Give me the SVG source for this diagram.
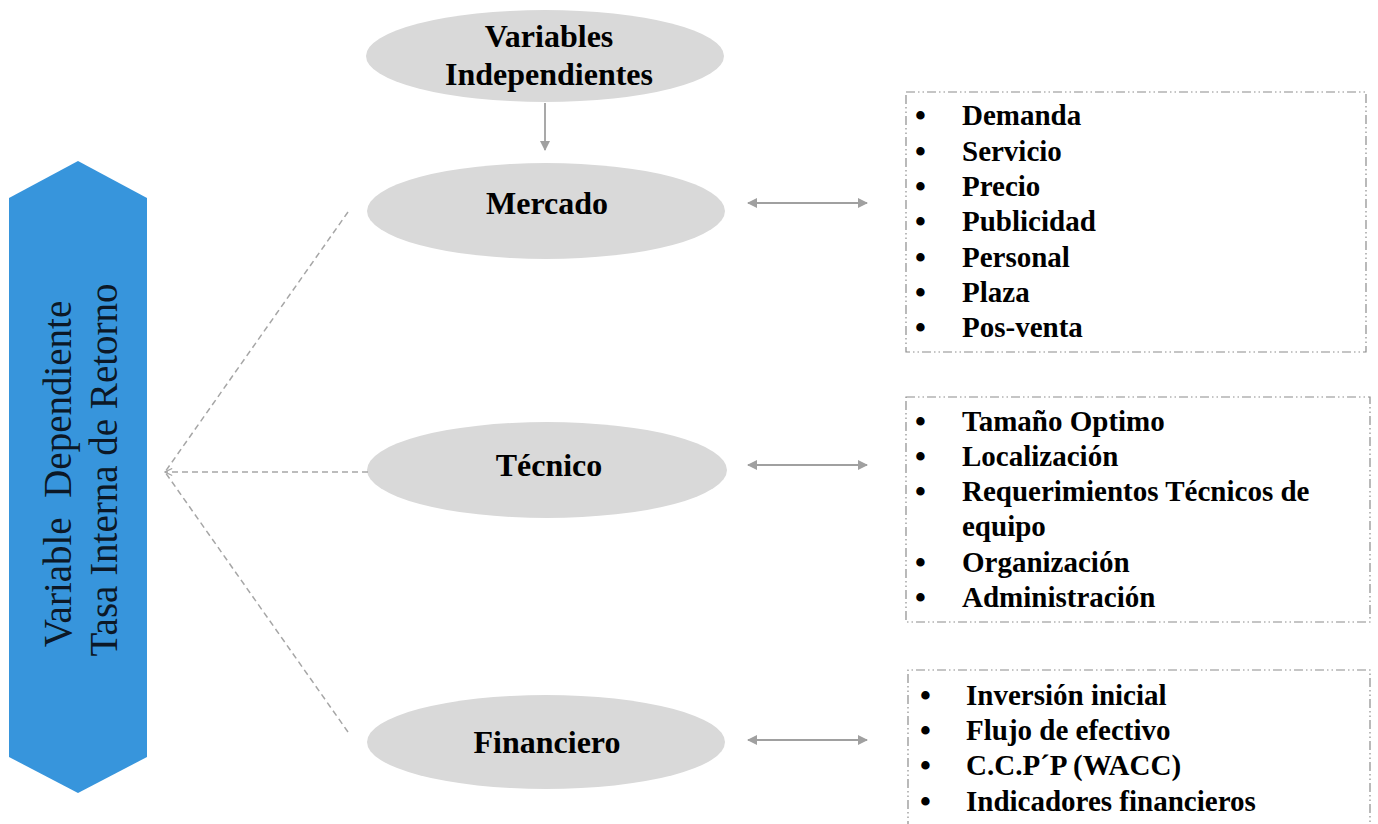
<svg xmlns="http://www.w3.org/2000/svg" width="1378" height="824" viewBox="0 0 1378 824">
  <style>
    .oval { fill: #d9d9d9; }
    .otext { font-family: "Liberation Serif", "Times New Roman", serif; font-weight: bold; font-size: 32px; fill: #000; text-anchor: middle; }
    .item { font-family: "Liberation Serif", "Times New Roman", serif; font-weight: bold; font-size: 29px; fill: #000; }
    .bullet { font-family: "Liberation Serif", "Times New Roman", serif; font-weight: bold; font-size: 31px; fill: #000; }
    .box { fill: none; stroke: #8c8c8c; stroke-width: 1.2; stroke-dasharray: 9 3 1.5 3 1.5 3; }
    .dash { fill: none; stroke: #a6a6a6; stroke-width: 1.5; stroke-dasharray: 6 4; }
    .link { fill: none; stroke: #a0a0a0; stroke-width: 1.8; }
    .vtext { font-family: "Liberation Serif", "Times New Roman", serif; font-size: 39px; fill: #0c1826; text-anchor: middle; }
  </style>
  <defs>
    <marker id="head" viewBox="0 0 10 10" refX="9" refY="5" markerWidth="10" markerHeight="11" markerUnits="userSpaceOnUse" orient="auto-start-reverse">
      <path d="M0,0 L10,5 L0,10 Z" fill="#a0a0a0"/>
    </marker>
    <marker id="open" viewBox="0 0 10 10" refX="9" refY="5" markerWidth="9" markerHeight="9" markerUnits="userSpaceOnUse" orient="auto">
      <path d="M1,1 L9,5 L1,9" fill="none" stroke="#a6a6a6" stroke-width="1.3"/>
    </marker>
  </defs>

  <!-- dependent variable -->
  <g id="dependiente">
    <polygon points="78,161 147,198 147,757 78,793 9,757 9,198" fill="#3795dc"/>
    <text class="vtext" xml:space="preserve" transform="translate(71,474) rotate(-90)">Variable  Dependiente</text>
    <text class="vtext" transform="translate(117,470) rotate(-90)">Tasa Interna de Retorno</text>
  </g>

  <!-- independent variables -->
  <g id="independientes">
    <ellipse class="oval" cx="545" cy="56" rx="179" ry="46"/>
    <text class="otext" x="549" y="47">Variables</text>
    <text class="otext" x="549" y="85">Independientes</text>
  </g>

  <g id="mercado">
    <ellipse class="oval" cx="546" cy="211" rx="179" ry="48"/>
    <text class="otext" x="547" y="214">Mercado</text>
  </g>

  <g id="tecnico">
    <ellipse class="oval" cx="547" cy="470" rx="180" ry="48"/>
    <text class="otext" x="549" y="476">Técnico</text>
  </g>

  <g id="financiero">
    <ellipse class="oval" cx="546" cy="742" rx="179" ry="47"/>
    <text class="otext" x="547" y="753">Financiero</text>
  </g>

  <!-- item lists -->
  <g id="lista-mercado">
    <rect class="box" x="906" y="92" width="460" height="260"/>
    <g class="bullet">
      <text x="915" y="126">•</text><text x="915" y="162">•</text><text x="915" y="197">•</text>
      <text x="915" y="232">•</text><text x="915" y="268">•</text><text x="915" y="303">•</text>
      <text x="915" y="338">•</text>
    </g>
    <text class="item" x="962" y="125">Demanda</text>
    <text class="item" x="962" y="161">Servicio</text>
    <text class="item" x="962" y="196">Precio</text>
    <text class="item" x="962" y="231">Publicidad</text>
    <text class="item" x="962" y="267">Personal</text>
    <text class="item" x="962" y="302">Plaza</text>
    <text class="item" x="962" y="337">Pos-venta</text>
  </g>

  <g id="lista-tecnico">
    <rect class="box" x="906" y="397" width="464" height="225"/>
    <g class="bullet">
      <text x="915" y="432">•</text><text x="915" y="467">•</text><text x="915" y="502">•</text>
      <text x="915" y="573">•</text><text x="915" y="608">•</text>
    </g>
    <text class="item" x="962" y="431">Tamaño Optimo</text>
    <text class="item" x="962" y="466">Localización</text>
    <text class="item" x="962" y="501">Requerimientos Técnicos de</text>
    <text class="item" x="962" y="536">equipo</text>
    <text class="item" x="962" y="572">Organización</text>
    <text class="item" x="962" y="607">Administración</text>
  </g>

  <g id="lista-financiero">
    <path class="box" d="M908,830 L908,670 L1370,670 L1370,830"/>
    <g class="bullet">
      <text x="920" y="706">•</text><text x="920" y="741">•</text><text x="920" y="776">•</text>
      <text x="920" y="812">•</text>
    </g>
    <text class="item" x="966" y="705">Inversión inicial</text>
    <text class="item" x="966" y="740">Flujo de efectivo</text>
    <text class="item" x="966" y="775">C.C.P´P (WACC)</text>
    <text class="item" x="966" y="811">Indicadores financieros</text>
  </g>

  <!-- connectors -->
  <g id="connectors">
    <line class="link" x1="545" y1="103" x2="545" y2="150" marker-end="url(#head)"/>
    <line class="link" x1="748" y1="203" x2="867" y2="203" marker-start="url(#head)" marker-end="url(#head)"/>
    <line class="link" x1="748" y1="465" x2="867" y2="465" marker-start="url(#head)" marker-end="url(#head)"/>
    <line class="link" x1="748" y1="740" x2="867" y2="740" marker-start="url(#head)" marker-end="url(#head)"/>
    <line class="dash" x1="348" y1="212" x2="165" y2="472"/>
    <line class="dash" x1="368" y1="472" x2="165" y2="472" marker-end="url(#open)"/>
    <line class="dash" x1="348" y1="732" x2="165" y2="472"/>
  </g>
</svg>
